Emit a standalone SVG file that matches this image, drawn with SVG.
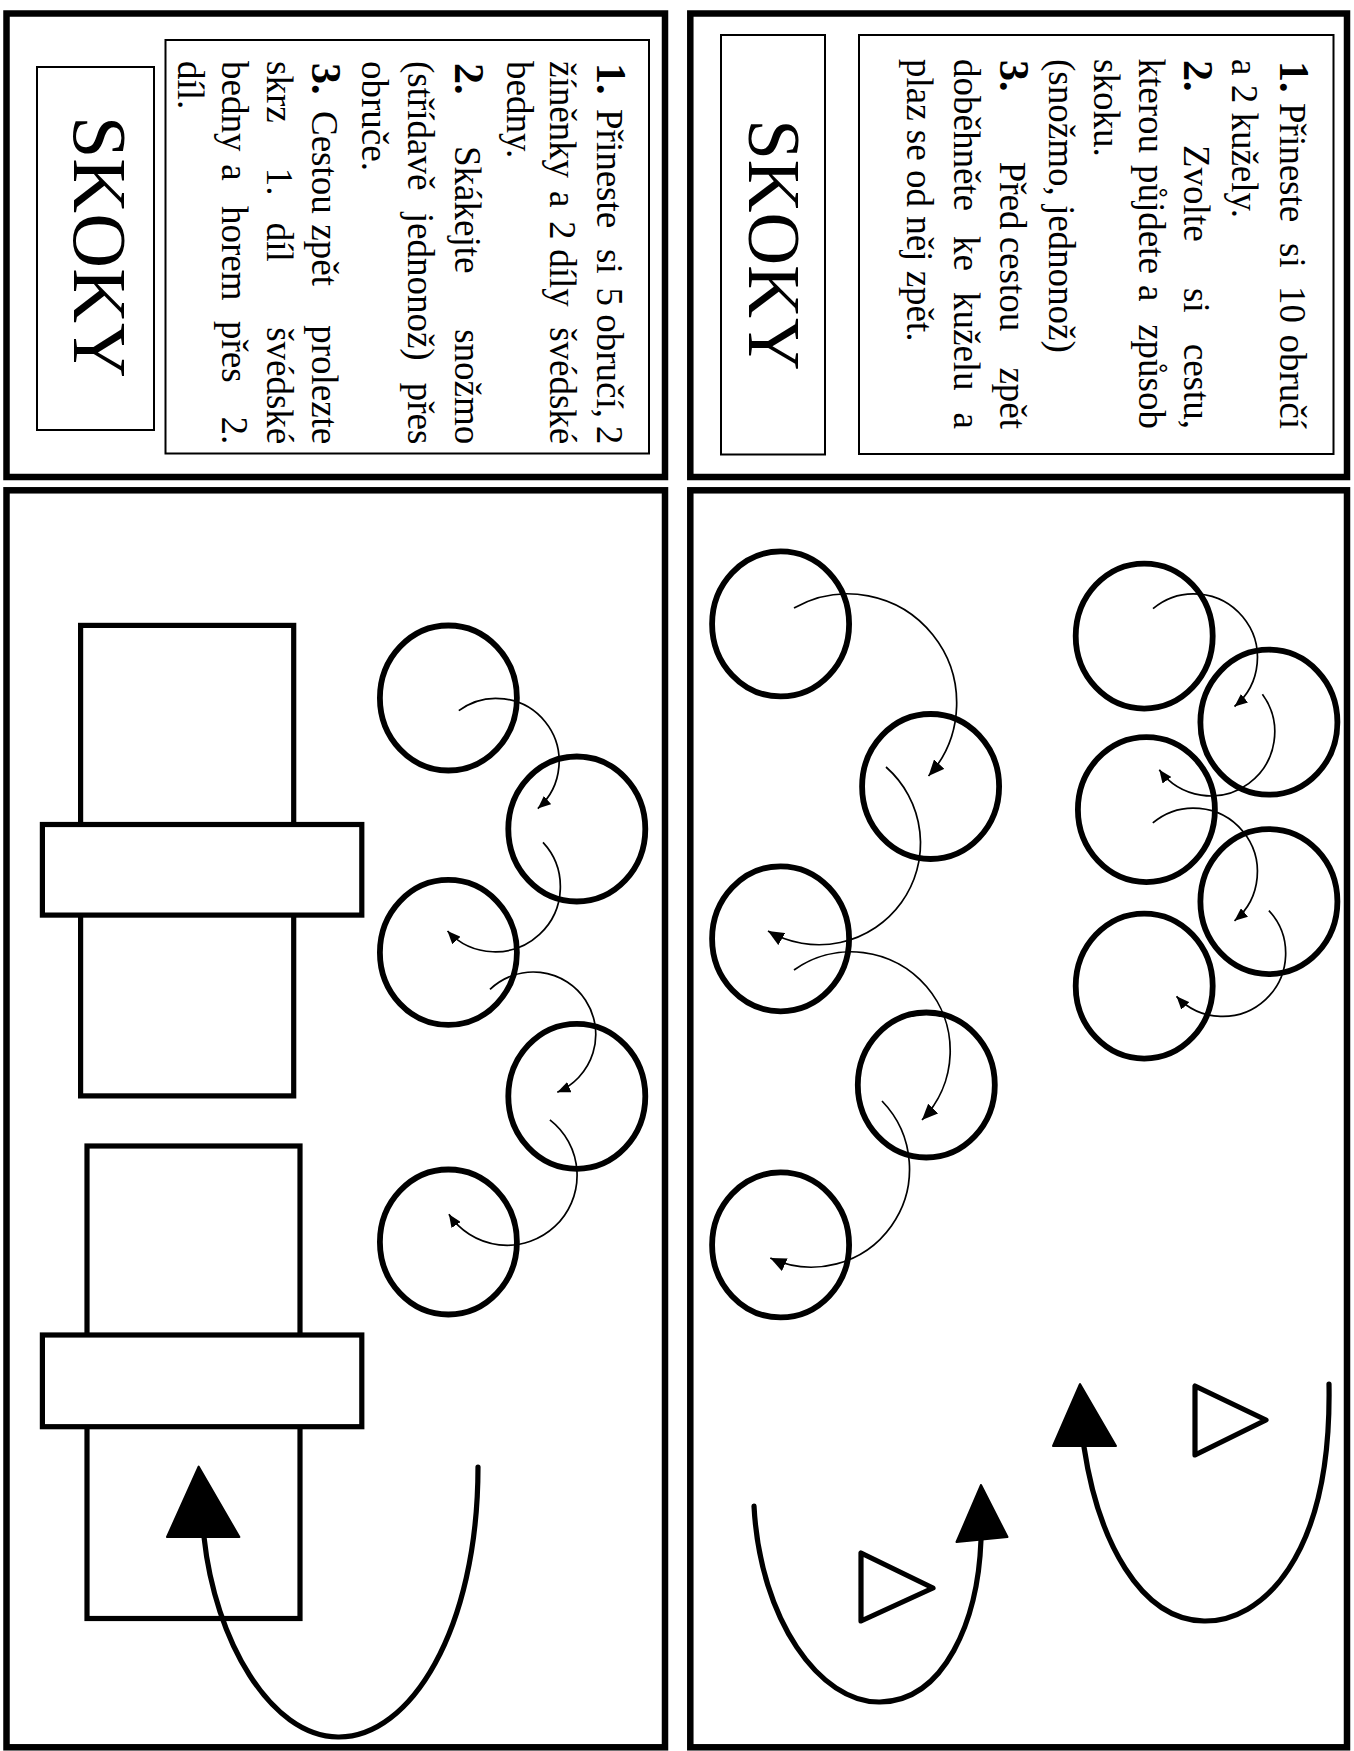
<svg xmlns="http://www.w3.org/2000/svg" width="1354" height="1751" viewBox="0 0 1354 1751">
<style>
.panel{fill:none;stroke:#000;stroke-width:6.5}
.box{fill:none;stroke:#000;stroke-width:2}
.hoop{fill:none;stroke:#000;stroke-width:5.8}
.thin{fill:none;stroke:#000;stroke-width:1.7}
.thick{fill:none;stroke:#000;stroke-width:5.2;stroke-linecap:round}
.head{fill:#000;stroke:#000;stroke-width:2;stroke-linejoin:round}
.cone{fill:#fff;stroke:#000;stroke-width:5.2;stroke-linejoin:round}
.bench{fill:#fff;stroke:#000;stroke-width:5.2}
text{font-family:"Liberation Serif","Times New Roman",serif;fill:#000}
.t{font-size:37px}
.n{font-size:42px;font-weight:bold}
.e{text-anchor:end}
.title{font-size:73px;text-anchor:middle}
</style>
<defs>
<marker id="ahL" markerUnits="userSpaceOnUse" markerWidth="18" markerHeight="14" refX="16" refY="7" orient="auto"><path d="M0,0 L16,7 L0,14 z" fill="#000"/></marker>
<marker id="ahS" markerUnits="userSpaceOnUse" markerWidth="14" markerHeight="11" refX="13" refY="5.5" orient="auto"><path d="M0,0 L13,5.5 L0,11 z" fill="#000"/></marker>
</defs>
<rect x="0" y="0" width="1354" height="1751" fill="#fff"/>

<g id="panel-top-left">
<rect class="panel" x="6.5" y="13.5" width="658.5" height="463.5"/>
<rect class="box" x="37" y="67" width="117" height="363"/>
<rect class="box" x="165.5" y="40" width="483.5" height="413.5"/>
<g transform="rotate(90)">
<text class="title" style="font-size:76px" x="247" y="-74">SKOKY</text>
<text class="t" y="-596.7"><tspan class="n" x="63">1.</tspan><tspan x="109">Přineste</tspan><tspan x="249">si</tspan><tspan x="287.5">5</tspan><tspan x="314.3">obručí,</tspan><tspan class="e" x="444.3">2</tspan></text>
<text class="t" y="-550"><tspan x="61">žíněnky</tspan><tspan x="191">a</tspan><tspan x="221">2</tspan><tspan x="249.3">díly</tspan><tspan class="e" x="444.3">švédské</tspan></text>
<text class="t" x="61" y="-506.7">bedny.</text>
<text class="t" y="-455"><tspan class="n" x="63">2.</tspan><tspan x="146">Skákejte</tspan><tspan class="e" x="444.3">snožmo</tspan></text>
<text class="t" y="-408.3"><tspan x="61">(střídavě</tspan><tspan x="212.7">jednonož)</tspan><tspan class="e" x="444.3">přes</tspan></text>
<text class="t" x="61" y="-361.7">obruče.</text>
<text class="t" y="-311.7"><tspan class="n" x="63">3.</tspan><tspan x="111">Cestou</tspan><tspan x="224.3">zpět</tspan><tspan class="e" x="444.3">prolezte</tspan></text>
<text class="t" y="-266.7"><tspan x="61">skrz</tspan><tspan x="167.7">1.</tspan><tspan x="222.7">díl</tspan><tspan class="e" x="444.3">švédské</tspan></text>
<text class="t" y="-221.7"><tspan x="61">bedny</tspan><tspan x="164.3">a</tspan><tspan x="206">horem</tspan><tspan x="321">přes</tspan><tspan class="e" x="444.3">2.</tspan></text>
<text class="t" x="61" y="-178.3">díl.</text>
</g>
</g>

<g id="panel-top-right">
<rect class="panel" x="690.3" y="13.5" width="656.7" height="463.5"/>
<rect class="box" x="721" y="35" width="104" height="419.5"/>
<rect class="box" x="859" y="35" width="474.5" height="419"/>
<g transform="rotate(90)">
<text class="title" x="245" y="-748.5">SKOKY</text>
<text class="t" y="-1280"><tspan class="n" x="61">1.</tspan><tspan x="103">Přineste</tspan><tspan x="243">si</tspan><tspan x="286">10</tspan><tspan class="e" x="429">obručí</tspan></text>
<text class="t" x="59" y="-1232">a 2 kužely.</text>
<text class="t" y="-1184"><tspan class="n" x="60">2.</tspan><tspan x="145">Zvolte</tspan><tspan x="288">si</tspan><tspan class="e" x="429">cestu,</tspan></text>
<text class="t" y="-1139"><tspan x="58.5">kterou</tspan><tspan x="165">půjdete</tspan><tspan x="285">a</tspan><tspan class="e" x="429">způsob</tspan></text>
<text class="t" x="59" y="-1094">skoku.</text>
<text class="t" x="59" y="-1049">(snožmo, jednonož)</text>
<text class="t" y="-1000"><tspan class="n" x="60">3.</tspan><tspan x="161.7">Před</tspan><tspan x="236.7">cestou</tspan><tspan class="e" x="429">zpět</tspan></text>
<text class="t" y="-954"><tspan x="59">doběhněte</tspan><tspan x="236">ke</tspan><tspan x="292">kuželu</tspan><tspan class="e" x="429">a</tspan></text>
<text class="t" x="59" y="-907">plaz se od něj zpět.</text>
</g>
</g>

<g id="panel-bottom-left">
<rect class="panel" x="6.5" y="490.3" width="658.5" height="1257"/>
</g>
<g id="panel-bottom-right">
<rect class="panel" x="690.3" y="490.3" width="656.7" height="1257"/>
</g>

<g id="bench-1">
<rect class="bench" x="80.6" y="625.4" width="213.1" height="470.5"/>
<rect class="bench" x="42.4" y="824.5" width="319.4" height="90.6"/>
</g>
<g id="bench-2">
<rect class="bench" x="87" y="1146" width="213" height="472.5"/>
<rect class="bench" x="42.4" y="1335" width="319.4" height="91.7"/>
</g>

<g id="hoops-left">
<ellipse id="hoop-p1" class="hoop" cx="448.4" cy="698" rx="68.5" ry="72.5"/>
<ellipse id="hoop-p2" class="hoop" cx="576.8" cy="829" rx="68.5" ry="72.5"/>
<ellipse id="hoop-p3" class="hoop" cx="448.4" cy="952.4" rx="68.5" ry="72.5"/>
<ellipse id="hoop-p4" class="hoop" cx="576.8" cy="1096.3" rx="68.5" ry="72.5"/>
<ellipse id="hoop-p5" class="hoop" cx="448.4" cy="1242" rx="68.5" ry="72.5"/>
</g>

<g id="hoops-right-a">
<ellipse id="hoop-l1" class="hoop" cx="780.6" cy="623.9" rx="68.5" ry="72.5"/>
<ellipse id="hoop-l2" class="hoop" cx="930.6" cy="786.5" rx="68.5" ry="72.5"/>
<ellipse id="hoop-l3" class="hoop" cx="780.6" cy="938.8" rx="68.5" ry="72.5"/>
<ellipse id="hoop-l4" class="hoop" cx="926.3" cy="1085" rx="68.5" ry="72.5"/>
<ellipse id="hoop-l5" class="hoop" cx="780.6" cy="1244.9" rx="68.5" ry="72.5"/>
</g>
<g id="hoops-right-b">
<ellipse id="hoop-r1" class="hoop" cx="1144.2" cy="636.1" rx="68.5" ry="72.5"/>
<ellipse id="hoop-r2" class="hoop" cx="1268.9" cy="722.2" rx="68.5" ry="72.5"/>
<ellipse id="hoop-r3" class="hoop" cx="1146.4" cy="809.6" rx="68.5" ry="72.5"/>
<ellipse id="hoop-r4" class="hoop" cx="1268.9" cy="901.6" rx="68.5" ry="72.5"/>
<ellipse id="hoop-r5" class="hoop" cx="1144.2" cy="986.1" rx="68.5" ry="72.5"/>
</g>

<g id="cone-1"><polygon class="cone" points="1195,1386 1195,1455 1266,1420"/></g>
<g id="cone-2"><polygon class="cone" points="861,1553 861,1621 933,1588"/></g>

<g id="connectors">
<path class="thin" marker-end="url(#ahS)" d="M458.8,710.6 A63,63 0 0 1 537.8,808.6"/>
<path class="thin" marker-end="url(#ahS)" d="M543,842.4 A65,65 0 0 1 447.5,931"/>
<path class="thin" marker-end="url(#ahS)" d="M490,989.4 A62.5,62.5 0 1 1 557.3,1092.2"/>
<path class="thin" marker-end="url(#ahS)" d="M549.9,1119.9 A70,70 0 1 1 448.9,1214.2"/>

<path class="thin" marker-end="url(#ahL)" d="M794,608 A109,109 0 0 1 928.5,776"/>
<path class="thin" marker-end="url(#ahL)" d="M886,767 A101.5,101.5 0 0 1 768,931"/>
<path class="thin" marker-end="url(#ahL)" d="M794,970 A99,99 0 0 1 922,1120"/>
<path class="thin" marker-end="url(#ahL)" d="M882,1101 A98,98 0 0 1 770.3,1258"/>

<path class="thin" marker-end="url(#ahS)" d="M1153,608.6 A62,62 0 0 1 1234.5,706.5"/>
<path class="thin" marker-end="url(#ahS)" d="M1262.4,694.3 A62,62 0 0 1 1159.3,769.8"/>
<path class="thin" marker-end="url(#ahS)" d="M1152.8,822.9 A62,62 0 0 1 1234.5,920.8"/>
<path class="thin" marker-end="url(#ahS)" d="M1268.9,910.6 A62,62 0 0 1 1176.5,996.3"/>

<path class="thick" d="M1329,1384 C1332,1560 1260,1622 1204,1621 C1140,1620 1098,1540 1084,1447"/>
<polygon class="head" points="1080,1384 1053,1446 1116,1446"/>
<path class="thick" d="M754,1506 C760,1620 820,1703 880,1702 C945,1701 978,1620 981,1540"/>
<polygon class="head" points="981,1485 956.5,1542 1007.5,1537"/>
<path class="thick" d="M478,1467 C478,1630 410,1738 338,1737 C270,1736 215,1640 204,1537"/>
<polygon class="head" points="198.6,1466.6 167,1537 239.4,1537"/>
</g>
</svg>
